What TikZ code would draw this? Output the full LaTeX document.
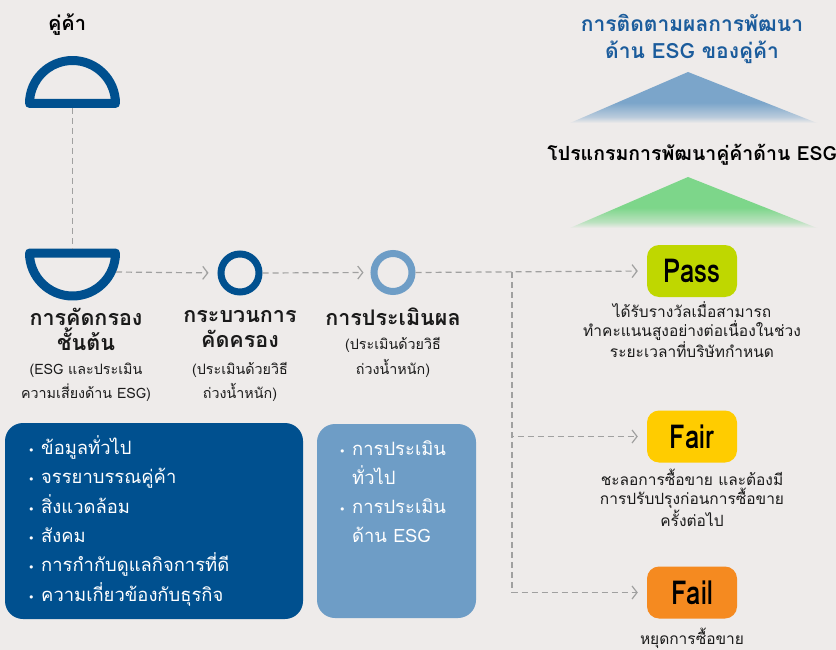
\documentclass[tikz,border=0pt]{standalone}
\usepackage{fontspec}
\setmainfont[Script=Thai]{Loma}
\newfontfamily\dejavu{DejaVu Sans}
\usetikzlibrary{arrows.meta}
\definecolor{bg}{HTML}{EEEBEA}
\definecolor{dblue}{HTML}{00508F}
\definecolor{lblue}{HTML}{6E9DC6}
\definecolor{tblue}{HTML}{7BA5CA}
\definecolor{tgreen}{HTML}{7DD68A}
\definecolor{titleblue}{HTML}{1B5C9C}
\definecolor{lime}{HTML}{BFD700}
\definecolor{yell}{HTML}{FFCC00}
\definecolor{orng}{HTML}{F58A20}
\definecolor{cgray}{HTML}{A0A0A0}
\definecolor{txt}{HTML}{1A1A1A}
\pgfdeclareverticalshading{fadeblue}{100bp}{color(0bp)=(bg); color(25bp)=(bg); color(31bp)=(bg!55!tblue); color(45bp)=(tblue); color(100bp)=(tblue)}
\pgfdeclareverticalshading{fadegreen}{100bp}{color(0bp)=(bg); color(25bp)=(bg); color(31bp)=(bg!55!tgreen); color(45bp)=(tgreen); color(100bp)=(tgreen)}
\newcommand\blt{\makebox[13pt][l]{\dejavu\fontsize{11}{11}\selectfont •}}
\newcommand\narrow[1]{\scalebox{0.78}[1]{#1}}
\begin{document}
\begin{tikzpicture}[x=1pt,y=-1pt,
  conn/.style={draw=cgray,line width=1.2pt,dash pattern=on 6pt off 4pt,-{Straight Barb[length=5pt,width=13pt,line width=1.2pt]}},
  connl/.style={draw=cgray,line width=1.2pt,dash pattern=on 6pt off 4pt},
  halfring/.style={draw=dblue,line width=9pt,line join=round},
  ring/.style={circle,draw=#1,line width=7pt,minimum size=38pt,inner sep=0pt},
  result/.style={rounded corners=12pt,fill=#1,minimum width=90pt,minimum height=52pt,inner sep=0pt,font=\bfseries\fontsize{33}{34}\selectfont,text=black},
  head/.style={font=\bfseries\fontsize{21.5}{25}\selectfont,text=txt,align=center},
  sub/.style={font=\fontsize{14.3}{24.5}\selectfont,text=txt,align=center},
  note/.style={font=\fontsize{15.5}{19}\selectfont,text=txt,align=center},
  listtxt/.style={font=\fontsize{18.4}{29.3}\selectfont,text=white,align=left,anchor=base west,inner sep=0pt}]
\fill[bg] (0,0) rectangle (836,650);
\useasboundingbox (0,0) rectangle (836,650);

% top right
\node[font=\bfseries\fontsize{21}{27}\selectfont,text=titleblue,align=center] (title) at (692,39) {การติดตามผลการพัฒนา\\ด้าน ESG ของคู่ค้า};
\shade[shading=fadeblue] (570,123) -- (688,72) -- (817,123) -- cycle;
\node[font=\bfseries\fontsize{19.5}{22}\selectfont,text=black] (prog) at (692,155) {โปรแกรมการพัฒนาคู่ค้าด้าน ESG};
\shade[shading=fadegreen] (570,228) -- (688,177) -- (817,228) -- cycle;

% left chain
\node[font=\bfseries\fontsize{20}{24}\selectfont,text=black] (kk) at (67,25) {คู่ค้า};
\draw[halfring] (29.5,103.5) arc[start angle=180,end angle=360,radius=43] -- cycle;
\draw[halfring] (29.5,253) arc[start angle=180,end angle=0,radius=43] -- cycle;
\coordinate (domeb) at (72.5,108);
\coordinate (bowlt) at (72.5,248.5);
\coordinate (bowlr) at (116,272);
\draw[connl] (domeb) -- (bowlt);

\node[ring=dblue] (r1) at (240,273) {};
\node[ring=lblue] (r2) at (393,272.5) {};
\draw[conn,shorten >=9pt] (bowlr) -- (r1.west);
\draw[conn,shorten >=7pt] (r1.east) -- (r2.west);

\node[result=lime] (pass) at (692,271) {\narrow{Pass}};
\node[result=yell] (fair) at (692,436.5) {\narrow{Fair}};
\node[result=orng] (fail) at (692,592.5) {\narrow{Fail}};
\coordinate (br) at (512,272);
\draw[conn,shorten >=9pt] (r2.east) -- (pass.west);
\draw[conn,shorten >=9pt] (br) |- (fair.west);
\draw[conn,shorten >=9pt] (br) |- (fail.west);

\node[note] (passn) at (692,330) {ได้รับรางวัลเมื่อสามารถ\\ทำคะแนนสูงอย่างต่อเนื่องในช่วง\\ระยะเวลาที่บริษัทกำหนด};
\node[note] (fairn) at (692,498) {ชะลอการซื้อขาย และต้องมี\\การปรับปรุงก่อนการซื้อขาย\\ครั้งต่อไป};
\node[note] (failn) at (692,638) {หยุดการซื้อขาย};

% labels
\node[head] (h1) at (86,329.5) {การคัดกรอง\\ชั้นต้น};
\node[sub] (s1) at (86,382.5) {(ESG และประเมิน\\ความเสี่ยงด้าน ESG)};
\node[head] (h2) at (240,329.5) {กระบวนการ\\คัดครอง};
\node[sub] (s2) at (240,382) {(ประเมินด้วยวิธี\\ถ่วงน้ำหนัก)};
\node[head] (h3) at (393,317) {การประเมินผล};
\node[sub] (s3) at (393,357.5) {(ประเมินด้วยวิธี\\ถ่วงน้ำหนัก)};

% boxes
\fill[dblue,rounded corners=18pt] (5,423) rectangle (303,619);
\node[listtxt] (l1) at (28,601) {\blt ข้อมูลทั่วไป\\\blt จรรยาบรรณคู่ค้า\\\blt สิ่งแวดล้อม\\\blt สังคม\\\blt การกำกับดูแลกิจการที่ดี\\\blt ความเกี่ยวข้องกับธุรกิจ};
\fill[lblue,rounded corners=18pt] (317,424) rectangle (476,618);
\node[listtxt,font=\fontsize{18.4}{28.7}\selectfont] (l2) at (339,542) {\blt การประเมิน\\\hphantom{\blt}ทั่วไป\\\blt การประเมิน\\\hphantom{\blt}ด้าน ESG};
\end{tikzpicture}
\end{document}
